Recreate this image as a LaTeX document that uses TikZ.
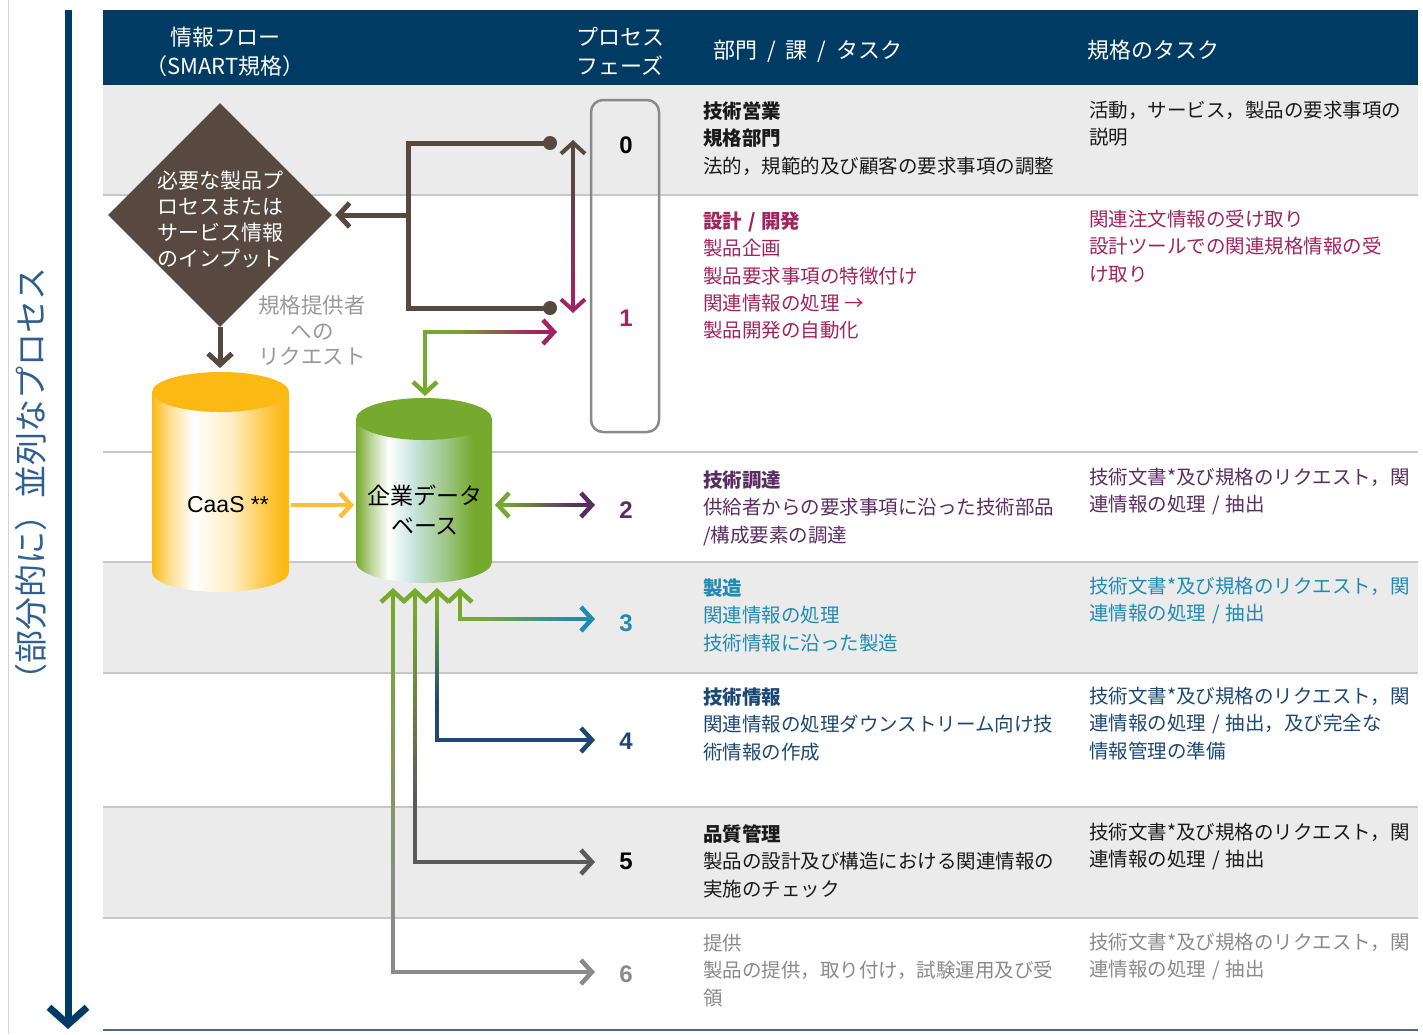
\documentclass[tikz,border=0pt]{standalone}
\usepackage{fontspec}
\setmainfont{Noto Sans CJK JP}
\newfontfamily\arialf{Liberation Sans}
\usetikzlibrary{arrows.meta,shapes.geometric,calc}

\definecolor{hdr}{HTML}{003B64}
\definecolor{bandC}{HTML}{EBEBEB}
\definecolor{divC}{HTML}{C8C8C8}
\definecolor{brownC}{HTML}{574840}
\definecolor{gGreen}{HTML}{76AA2E}
\definecolor{caasY}{HTML}{FDB913}
\definecolor{arrY}{HTML}{FDBE3C}
\definecolor{cMag}{HTML}{A0245E}
\definecolor{cPur}{HTML}{5A2D62}
\definecolor{cTeal}{HTML}{1F8BB2}
\definecolor{cNavy}{HTML}{1E4874}
\definecolor{cDark}{HTML}{5A5A5A}
\definecolor{cGray}{HTML}{8A8A8A}
\definecolor{txtBlack}{HTML}{1A1A1A}
\definecolor{vtxt}{HTML}{2F5F8F}
\definecolor{dbTeal}{HTML}{C8E4DD}
\definecolor{boxC}{HTML}{8A8A8A}
\definecolor{reqC}{HTML}{9A9A9A}
\definecolor{botC}{HTML}{506A85}
\definecolor{edgeC}{HTML}{D4D4D4}

\pgfdeclarehorizontalshading{caasbody}{100bp}{color(0bp)=(caasY); color(25bp)=(caasY); color(31bp)=(caasY!50!white); color(40bp)=(white); color(54bp)=(caasY!25!white); color(66bp)=(caasY!75!white); color(73bp)=(caasY); color(100bp)=(caasY)}
\pgfdeclarehorizontalshading{dbbody}{100bp}{color(0bp)=(gGreen); color(25bp)=(gGreen); color(31bp)=(gGreen!45!white); color(37bp)=(white); color(46bp)=(dbTeal); color(58bp)=(gGreen!50!dbTeal); color(68bp)=(gGreen); color(100bp)=(gGreen)}

\newcommand\gradline[4]{%
  \foreach \gk in {0,...,23}{%
    \pgfmathsetmacro\gga{(\gk-0.4)/24}%
    \pgfmathsetmacro\ggb{(\gk+1.4)/24}%
    \pgfmathsetmacro\ggp{100*(\gk+0.5)/24}%
    \draw[conn,line cap=butt,draw=#4!\ggp!#3] ($(#1)!\gga!(#2)$) -- ($(#1)!\ggb!(#2)$);
  }}

\newcommand\tlines[5]{%
  \foreach \mytext [count=\myi] in {#5}{%
    \node[txt,#4] (#1-\myi) at (#2,{#3+27.3*(\myi-1)}) {\mytext};}}

\newcommand\slsh{\hspace{0.3em}/\hspace{0.3em}}

\begin{document}
\begin{tikzpicture}[x=1pt,y=-1pt,
  >={Straight Barb[length=11pt,width=24pt]},
  txt/.style={anchor=base west, inner sep=0pt, font=\fontsize{19.5}{23}\selectfont},
  hdrtxt/.style={anchor=base, inner sep=0pt, text=white, font=\fontsize{22}{26}\selectfont},
  phnum/.style={inner sep=0pt, font=\arialf\bfseries\fontsize{24}{28}\selectfont},
  conn/.style={line width=4.5pt},
  bconn/.style={line width=5pt, draw=brownC, line join=miter},
  divider/.style={line width=2.5pt, draw=divC},
  band/.style={fill=bandC}]

\useasboundingbox (0,0) rectangle (1423,1034);
\fill[white] (0,0) rectangle (1423,1034);
\draw[line width=1pt, draw=edgeC] (8,0) -- (8,1034);

% bands and dividers
\fill[band] (103,85) rectangle (1418,195);
\fill[band] (103,562) rectangle (1418,673);
\fill[band] (103,807) rectangle (1418,918);
\foreach \yy in {195,452,562,673,807,918} \draw[divider] (103,\yy) -- (1418,\yy);
\draw[line width=2pt, draw=botC] (103,1030) -- (1418,1030);

% header
\fill[hdr] (103,10) rectangle (1418,85);
\node[hdrtxt] (h1a) at (225,45.4) {情報フロー};
\node[hdrtxt] (h1b) at (225,74.4) {（SMART規格）};
\node[hdrtxt] (h2a) at (620,45.4) {プロセス};
\node[hdrtxt] (h2b) at (620,74.4) {フェーズ};
\node[hdrtxt, anchor=base west] (h3) at (713,58.4) {部門\hspace{0.45em}/\hspace{0.45em}課\hspace{0.45em}/\hspace{0.45em}タスク};
\node[hdrtxt, anchor=base west] (h4) at (1087,58.4) {規格のタスク};

% left process arrow
\coordinate (la0) at (68,10);
\coordinate (la1) at (68,1029);
\draw[line width=7pt, draw=hdr, -{Straight Barb[length=17pt,width=38pt]}] (la0) -- (la1);
\node[rotate=90, text=vtxt, font=\fontsize{33}{36}\selectfont, inner sep=0pt] (vt) at (31,482) {（部分的に）並列なプロセス};

% phase box
\node[draw=boxC, line width=2.5pt, rounded corners=12pt, minimum width=68pt, minimum height=332pt, inner sep=0pt] (pbox) at (625,266) {};
\node[phnum, text=black] (ph0) at (626,145) {0};
\node[phnum, text=cMag] (ph1) at (626,318) {1};
\node[phnum, text=cPur] (ph2) at (626,510) {2};
\node[phnum, text=cTeal] (ph3) at (626,623) {3};
\node[phnum, text=cNavy] (ph4) at (626,741) {4};
\node[phnum, text=black] (ph5) at (626,861) {5};
\node[phnum, text=cGray] (ph6) at (626,974) {6};

% diamond
\node[diamond, fill=brownC, minimum width=224pt, minimum height=224pt, inner sep=0pt] (dia) at (220,215) {};
\node[text=white, align=center, font=\fontsize{21}{25.7}\selectfont, inner sep=0pt] (diat) at (220,219.5) {必要な製品プ\\ロセスまたは\\サービス情報\\のインプット};
\node[text=reqC, align=center, font=\fontsize{21.5}{25.5}\selectfont, inner sep=0pt] (req) at (312,330.5) {規格提供者\\への\\リクエスト};

% CaaS cylinder
\shade[shading=caasbody] (152,392) -- (152,572) .. controls (152,583.05) and (182.67,592) .. (220.5,592) .. controls (258.33,592) and (289,583.05) .. (289,572) -- (289,392) -- cycle;
\fill[caasY] (220.5,392) ellipse [x radius=68.5pt, y radius=20pt];
\node[font=\arialf\fontsize{23}{27}\selectfont, inner sep=0pt] (caast) at (228,505) {CaaS **};

% database cylinder
\shade[shading=dbbody] (356,419) -- (356,562) .. controls (356,573.6) and (386.44,583) .. (424,583) .. controls (461.56,583) and (492,573.6) .. (492,562) -- (492,419) -- cycle;
\fill[gGreen] (424,419) ellipse [x radius=68pt, y radius=21pt];
\node[align=center, font=\fontsize{23}{30}\selectfont, inner sep=0pt, text=black] (dbt) at (425,510) {企業データ\\ベース};

% brown bracket connector
\coordinate (bTop) at (408,143);
\coordinate (bTopEnd) at (550,143);
\coordinate (bBot) at (408,308);
\coordinate (bBotEnd) at (550,308);
\coordinate (bMid) at (408,215);
\coordinate (caasTop) at (220,368);
\draw[bconn] (bTopEnd) -- (bTop) -- (bBot) -- (bBotEnd);
\fill[brownC] (bTopEnd) circle[radius=7pt];
\fill[brownC] (bBotEnd) circle[radius=7pt];
\draw[bconn,->,shorten >=3pt] (bMid) -- (dia.east);
\draw[bconn,->] (dia.south) -- (caasTop);

% double arrow phase 0 <-> 1
\coordinate (d0) at (573,140);
\coordinate (d0s) at (573,175);
\coordinate (d1s) at (573,285);
\coordinate (d1) at (573,313);
\draw[conn, line width=4pt, draw=brownC, <-] (d0) -- (d0s);
\draw[conn, line width=4pt, draw=cMag, ->] (d1s) -- (d1);
\gradline{d0s}{d1s}{brownC}{cMag}

% DB <-> phase 1
\coordinate (dbTopIn) at (425,396);
\coordinate (a1c) at (425,332);
\coordinate (a1s) at (455,332);
\coordinate (a1e) at (535,332);
\coordinate (a1end) at (557,332);
\draw[conn, draw=gGreen, <-] (dbTopIn) -- (a1c) -- (a1s);
\draw[conn, draw=cMag, ->] (a1e) -- (a1end);
\gradline{a1s}{a1e}{gGreen}{cMag}

% CaaS -> DB
\coordinate (caasR) at (291,505);
\coordinate (dbL) at (354,505);
\draw[conn, draw=arrY, ->] (caasR) -- (dbL);

% DB <-> 2
\coordinate (dbR) at (495,505);
\coordinate (a2s) at (505,505);
\coordinate (a2e) at (578,505);
\coordinate (p2) at (595,505);
\draw[conn, draw=gGreen, <-] (dbR) -- (a2s);
\draw[conn, draw=cPur, ->] (a2e) -- (p2);
\gradline{a2s}{a2e}{gGreen}{cPur}

% DB <-> 3
\coordinate (u3) at (460,588);
\coordinate (c3) at (460,619);
\coordinate (a3s) at (480,619);
\coordinate (a3e) at (575,619);
\coordinate (p3) at (595,619);
\draw[conn, draw=gGreen, <-] (u3) -- (c3) -- (a3s);
\draw[conn, draw=cTeal, ->] (a3e) -- (p3);
\gradline{a3s}{a3e}{gGreen}{cTeal}

% DB <-> 4
\coordinate (u4) at (437,588);
\coordinate (a4s) at (437,610);
\coordinate (a4e) at (437,705);
\coordinate (c4) at (437,740);
\coordinate (p4) at (595,740);
\draw[conn, draw=gGreen, <-] (u4) -- (a4s);
\draw[conn, draw=cNavy, ->] (a4e) -- (c4) -- (p4);
\gradline{a4s}{a4e}{gGreen}{cNavy}

% DB <-> 5
\coordinate (u5) at (415,588);
\coordinate (a5s) at (415,610);
\coordinate (a5e) at (415,810);
\coordinate (c5) at (415,862);
\coordinate (p5) at (595,862);
\draw[conn, draw=gGreen, <-] (u5) -- (a5s);
\draw[conn, draw=cDark, ->] (a5e) -- (c5) -- (p5);
\gradline{a5s}{a5e}{gGreen}{cDark}

% DB <-> 6
\coordinate (u6) at (393,588);
\coordinate (a6s) at (393,620);
\coordinate (a6e) at (393,920);
\coordinate (c6) at (393,972);
\coordinate (p6) at (595,972);
\draw[conn, draw=gGreen, <-] (u6) -- (a6s);
\draw[conn, draw=cGray, ->] (a6e) -- (c6) -- (p6);
\gradline{a6s}{a6e}{gGreen}{cGray}

% table texts
\tlines{r0l}{703}{118.5}{text=txtBlack}{{\bfseries 技術営業},{\bfseries 規格部門},{法的，規範的及び顧客の要求事項の調整}}
\tlines{r0r}{1089}{117.5}{text=txtBlack}{{活動，サービス，製品の要求事項の},{説明}}
\tlines{r1l}{703}{228.5}{text=cMag}{{\bfseries 設計\slsh 開発},{製品企画},{製品要求事項の特徴付け},{関連情報の処理 →},{製品開発の自動化}}
\tlines{r1r}{1089}{226.5}{text=cMag}{{関連注文情報の受け取り},{設計ツールでの関連規格情報の受},{け取り}}
\tlines{r2l}{703}{487.5}{text=cPur}{{\bfseries 技術調達},{供給者からの要求事項に沿った技術部品},{/構成要素の調達}}
\tlines{r2r}{1089}{484.5}{text=cPur}{{技術文書*及び規格のリクエスト，関},{連情報の処理\slsh 抽出}}
\tlines{r3l}{703}{595.5}{text=cTeal}{{\bfseries 製造},{関連情報の処理},{技術情報に沿った製造}}
\tlines{r3r}{1089}{593.5}{text=cTeal}{{技術文書*及び規格のリクエスト，関},{連情報の処理\slsh 抽出}}
\tlines{r4l}{703}{704.5}{text=cNavy}{{\bfseries 技術情報},{関連情報の処理ダウンストリーム向け技},{術情報の作成}}
\tlines{r4r}{1089}{703.5}{text=cNavy}{{技術文書*及び規格のリクエスト，関},{連情報の処理\slsh 抽出，及び完全な},{情報管理の準備}}
\tlines{r5l}{703}{841.5}{text=txtBlack}{{\bfseries 品質管理},{製品の設計及び構造における関連情報の},{実施のチェック}}
\tlines{r5r}{1089}{839.5}{text=txtBlack}{{技術文書*及び規格のリクエスト，関},{連情報の処理\slsh 抽出}}
\tlines{r6l}{703}{950.5}{text=cGray}{{提供},{製品の提供，取り付け，試験運用及び受},{領}}
\tlines{r6r}{1089}{949.5}{text=cGray}{{技術文書*及び規格のリクエスト，関},{連情報の処理\slsh 抽出}}
\end{tikzpicture}
\end{document}
